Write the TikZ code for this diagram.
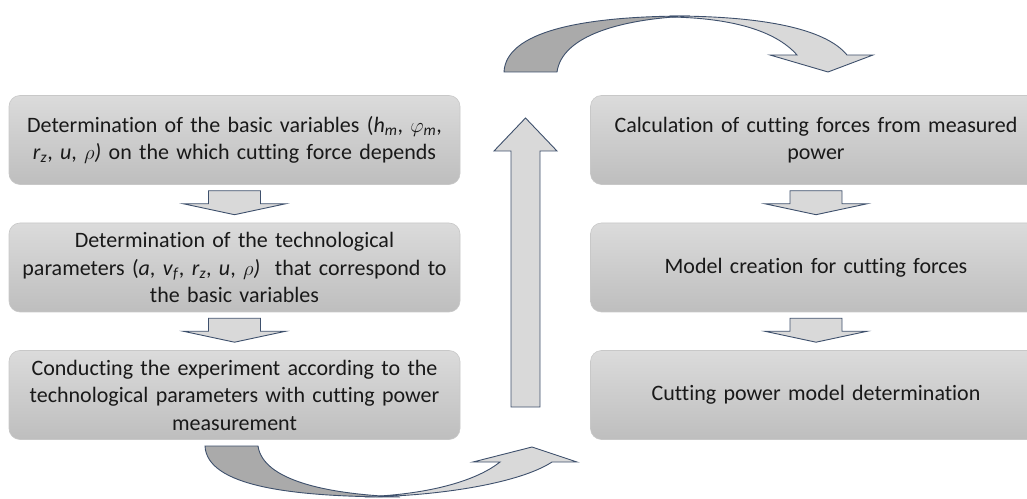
\documentclass[tikz,border=0pt]{standalone}
\usepackage{fontspec}
\setmainfont{Carlito}[Ligatures={NoCommon,NoContextual}]
\usetikzlibrary{calc}

\definecolor{boxtop}{RGB}{219,219,219}
\definecolor{boxbot}{RGB}{190,190,190}
\definecolor{boxline}{RGB}{200,200,200}
\definecolor{arrowfill}{RGB}{217,217,217}
\definecolor{arrowdark}{RGB}{170,170,170}
\definecolor{arrowline}{RGB}{62,80,108}
\definecolor{txt}{RGB}{25,25,25}

% italic symbol with italic subscript
\newcommand{\isub}[2]{\textit{#1}\textsubscript{\textit{#2}}}

% block arrow pointing down from one box to the next
\newcommand{\stepdown}[2]{%
  \draw[blockarrow]
    ($(#1.south)+(-26,-6)$) -- ($(#1.south)+(26,-6)$) --
    ($(#1.south)+(26,-19)$) -- ($(#1.south)+(51,-19)$) --
    ($(#2.north)+(0,8)$) --
    ($(#1.south)+(-51,-19)$) -- ($(#1.south)+(-26,-19)$) -- cycle;}

\tikzset{
  stepbox/.style={rounded corners=11pt, draw=boxline, line width=0.6pt,
    top color=boxtop, bottom color=boxbot,
    minimum width=451pt, minimum height=89pt, text width=446pt,
    align=center, inner sep=0pt,
    font=\fontsize{22}{27.5}\selectfont, text=txt},
  blockarrow/.style={draw=arrowline, line width=0.9pt, fill=arrowfill, line join=miter},
  undersidearrow/.style={draw=arrowline, line width=0.9pt, fill=arrowdark},
}

\begin{document}
\begin{tikzpicture}[x=1pt,y=1pt]
\useasboundingbox (0,0) rectangle (1027,498);
\clip (0,0) rectangle (1027,498);

% left column
\node[stepbox] (b1) at (234.5,358)
  {Determination of the basic variables (\isub{h}{m}, \isub{$\varphi$}{m},\\
   \isub{r}{z}, \textit{u}, \textit{$\rho$)} on the which cutting force depends};
\node[stepbox] (b2) at (234.5,230.5)
  {Determination of the technological\\
   parameters (\textit{a}, \isub{v}{f}, \isub{r}{z}, \textit{u}, \textit{$\rho$)}\ \ that correspond to\\
   the basic variables};
\node[stepbox] (b3) at (234.5,103)
  {Conducting the experiment according to the\\
   technological parameters with cutting power\\
   measurement};

% right column
\node[stepbox] (r1) at (816,358)
  {Calculation of cutting forces from measured\\ power};
\node[stepbox] (r2) at (816,230.5)
  {Model creation for cutting forces};
\node[stepbox] (r3) at (816,103)
  {Cutting power model determination};

\stepdown{b1}{b2}
\stepdown{b2}{b3}
\stepdown{r1}{r2}
\stepdown{r2}{r3}

% tall arrow between the columns
\coordinate (upfoot) at (525.5,91);
\coordinate (uptip) at (525.5,380);
\draw[blockarrow]
  ($(upfoot)+(-14.5,0)$) -- ($(upfoot)+(14.5,0)$) --
  ($(uptip)+(14.5,-33)$) -- ($(uptip)+(31.5,-33)$) -- (uptip) --
  ($(uptip)+(-31.5,-33)$) -- ($(uptip)+(-14.5,-33)$) -- cycle;

% curved arrow over the top
\draw[undersidearrow] (504,426) .. controls (506,466) and (580,482) .. (690,482)
  .. controls (620,479) and (562,462) .. (557,426) -- cycle;
\draw[blockarrow] (670,482) .. controls (760,482) and (825,470) .. (847,443)
  -- (873,443) -- (828,426) -- (770,443) -- (797,443)
  .. controls (775,468) and (730,480) .. (670,481);

% curved arrow along the bottom
\draw[undersidearrow] (205,52) .. controls (207,12) and (290,1) .. (400,1)
  .. controls (325,4) and (263,18) .. (258,52) -- cycle;
\draw[blockarrow] (365,1) .. controls (440,2) and (520,15) .. (552,36)
  -- (577,36) -- (532,51) -- (473,36) -- (500,36)
  .. controls (480,20) and (440,6) .. (380,2);
\end{tikzpicture}
\end{document}
